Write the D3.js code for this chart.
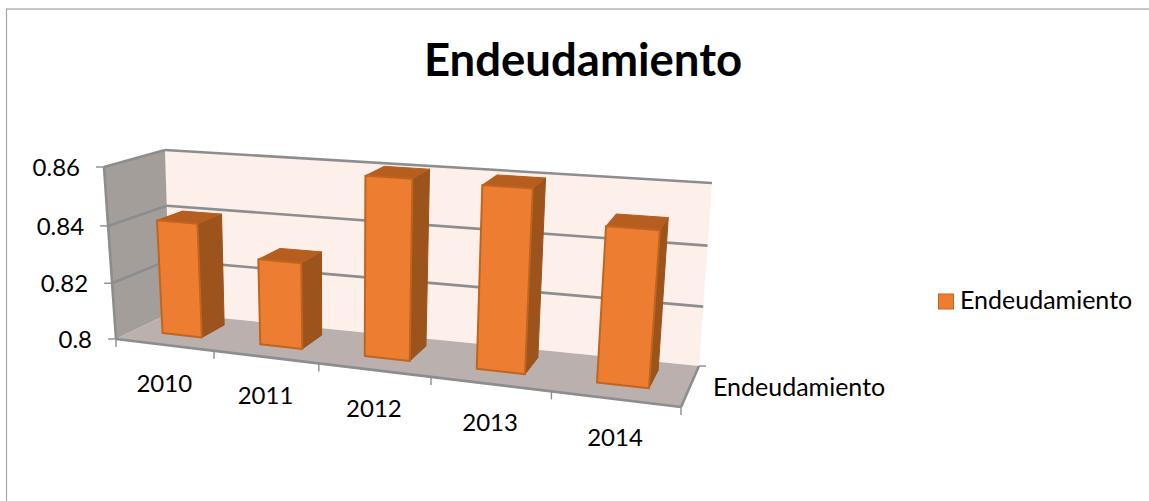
<!DOCTYPE html>
<html><head><meta charset="utf-8">
<script src="https://cdn.jsdelivr.net/npm/d3@7"></script>
<style>html,body{margin:0;padding:0;background:#fff}svg{display:block}text{font-family:Lato,"Open Sans",sans-serif;fill:#000}</style>
</head><body><svg id="c" width="1149" height="501"></svg>
<script>
const title = "Endeudamiento";
const years = ["2010","2011","2012","2013","2014"];
const seriesName = "Endeudamiento";
const values = [0.8403,0.8298,0.8605,0.8600,0.8500];
const yTicks = [0.8,0.82,0.84,0.86];
const yTickLabels = ["0.8","0.82","0.84","0.86"];

const svg = d3.select("#c");
// 3D box corners: [front/back][left/right][bottom/top]
const C = {
  flb:[116,339], flt:[104,167], frb:[681,407], frt:[697,209],
  blb:[170,313], blt:[165,150], brb:[699,366], brt:[712,183]
};
const band = d3.scaleBand().domain(years).range([0,1]);
const yScale = d3.scaleLinear().domain([0.8,0.86]).range([0,1]);
const persp = k => t => t*k/(1+(k-1)*t);
const pu = persp(0.84), pw = persp(0.96);
function P(t,v,h){
  const u=pu(t), w=pw(h);
  const lerp=(a,b,s)=>[a[0]+(b[0]-a[0])*s,a[1]+(b[1]-a[1])*s];
  const fb=lerp(C.flb,C.frb,u), ft=lerp(C.flt,C.frt,u), bb=lerp(C.blb,C.brb,u), bt=lerp(C.blt,C.brt,u);
  return lerp(lerp(fb,ft,w),lerp(bb,bt,w),v);
}
const line = d3.line();
const poly=(pts,fill,stroke,sw)=>svg.append("path").attr("d",line(pts)+"Z").attr("fill",fill).attr("stroke",stroke||"none").attr("stroke-width",sw||0).attr("stroke-linejoin","round");
const seg=(a,b,col,w)=>svg.append("line").attr("x1",a[0]).attr("y1",a[1]).attr("x2",b[0]).attr("y2",b[1]).attr("stroke",col).attr("stroke-width",w);

// chart frame
seg([6,9],[1149,9],"#8e8e8e",1.2);
seg([6.5,9],[6.5,501],"#a6a6a6",1.2);

// walls and floor
poly([P(0,1,0),P(1,1,0),P(1,1,1),P(0,1,1)],"#fdf0eb");
poly([P(0,0,0),P(0,1,0),P(0,1,1),P(0,0,1)],"#a49e9a");
poly([P(0,0,0),P(1,0,0),P(1,1,0),P(0,1,0)],"#bab0ae");

const grid="#8c8d8e";
yTicks.slice(1).forEach(d=>{
  const h=yScale(d);
  seg(P(0,0,h),P(0,1,h),grid,2.6);
  seg(P(0,1,h),P(1,1,h),grid,2.6);
});
// axes
seg(P(0,0,0),P(0,0,1),grid,2.6);
seg(P(0,0,0),P(1,0,0),grid,2.6);
seg(P(1,0,0),P(1,1,0),grid,2.6);
yTicks.forEach(d=>{const p=P(0,0,yScale(d)); seg([p[0]-8,p[1]],p,grid,1.4);});
d3.range(0,years.length+1).forEach(i=>{const p=P(i/years.length,0,0); seg(p,[p[0],p[1]+8],grid,1.4);});
{const p=P(1,1,0); seg(p,[p[0]+7,p[1]],grid,1.4);}

// bars
const barIn=0.295*band.bandwidth(), barOut=0.705*band.bandwidth(), v0=0.35, v1=0.8;
years.forEach((y,i)=>{
  const a=band(y)+barIn, b=band(y)+barOut, h=yScale(values[i]);
  poly([P(b,v0,0),P(b,v1,0),P(b,v1,h),P(b,v0,h)],"#9c531c","#9c531c",1);
  poly([P(a,v0,h),P(b,v0,h),P(b,v1,h),P(a,v1,h)],"#b55e1f","#b55e1f",1);
  poly([P(a,v0,0),P(b,v0,0),P(b,v0,h),P(a,v0,h)],"#ed7d31","#c0651f",2);
});

// tick labels
const fs=25;
yTicks.forEach((d,i)=>{const p=P(0,0,yScale(d));
  svg.append("text").attr("x",p[0]-24).attr("y",p[1]+9).attr("text-anchor","end").attr("font-size",fs-1).text(yTickLabels[i]);});
years.forEach((y,i)=>{const p=P((i+.5)/years.length,0,0);
  svg.append("text").attr("x",p[0]).attr("y",p[1]+47).attr("text-anchor","middle").attr("font-size",fs-1).text(y);});
svg.append("text").attr("x",713).attr("y",396).attr("font-size",fs).text(seriesName);

// legend
svg.append("rect").attr("x",938.5).attr("y",294).attr("width",15).attr("height",15).attr("fill","#ed7d31").attr("stroke","#c0651f").attr("stroke-width",1);
svg.append("text").attr("x",960).attr("y",309).attr("font-size",fs).text(seriesName);

// title
svg.append("text").attr("x",583).attr("y",76).attr("text-anchor","middle").attr("font-size",45.5).attr("font-weight",700).text(title);
</script></body></html>
